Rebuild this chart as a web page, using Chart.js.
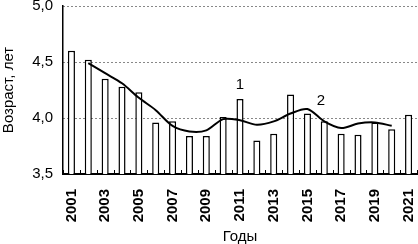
<!DOCTYPE html>
<html>
<head>
<meta charset="utf-8">
<script src="https://cdn.jsdelivr.net/npm/chart.js@4"></script>
<style>
  body { margin: 0; background: #fff; }
  #wrap { width: 418px; height: 244px; position: relative; }
</style>
</head>
<body>
<div id="wrap"><canvas id="chart"></canvas></div>
<script>
// Data
const years = ['2001','2002','2003','2004','2005','2006','2007','2008','2009','2010','2011',
               '2012','2013','2014','2015','2016','2017','2018','2019','2020','2021'];
const ageValues = [4.60, 4.52, 4.35, 4.28, 4.23, 3.96, 3.97, 3.84, 3.84, 4.01, 4.17,
                   3.80, 3.86, 4.21, 4.04, 3.97, 3.86, 3.85, 3.96, 3.90, 4.03];
// smoothed trend (curve 2), no values at the two ends
const trendValues = [null, 4.49, 4.40, 4.31, 4.18, 4.07, 3.93, 3.88, 3.89, 3.99, 3.98,
                     3.94, 3.97, 4.04, 4.08, 3.97, 3.91, 3.95, 3.96, 3.93, null];
const yTicks = [3.5, 4.0, 4.5, 5.0];
// curve labels: text, category position (index), value
const noteTexts = ['1', '2'];
const notePos = [10, 14.8];
const noteVals = [4.30, 4.15];

const FONT = "'Liberation Sans', Arial, sans-serif";

// small inward tick marks between categories + curve labels
const extras = {
  id: 'extras',
  afterDatasetsDraw(chart) {
    const { ctx, scales: { x, y } } = chart;
    const step = x.getPixelForValue(1) - x.getPixelForValue(0);
    ctx.save();
    ctx.strokeStyle = '#000';
    ctx.lineWidth = 1;
    for (let i = 0; i <= years.length; i++) {
      const px = Math.round(x.getPixelForValue(i) - step / 2) + 0.5;
      ctx.beginPath();
      ctx.moveTo(px, y.bottom);
      ctx.lineTo(px, y.bottom - 4);
      ctx.stroke();
    }
    ctx.fillStyle = '#000';
    ctx.font = '15px ' + FONT;
    ctx.textAlign = 'center';
    ctx.textBaseline = 'middle';
    noteTexts.forEach((t, i) => {
      ctx.fillText(t, x.getPixelForValue(notePos[i]), y.getPixelForValue(noteVals[i]));
    });
    ctx.restore();
  }
};

new Chart(document.getElementById('chart'), {
  data: {
    labels: years,
    datasets: [
      {
        type: 'line',
        data: trendValues,
        borderColor: '#000',
        borderWidth: 2,
        pointRadius: 0,
        tension: 0.3,
        fill: false,
        order: 0,
      },
      {
        type: 'bar',
        data: ageValues,
        backgroundColor: '#fff',
        borderColor: '#000',
        borderWidth: 1.5,
        barPercentage: 0.42,
        categoryPercentage: 1,
        order: 1,
      },
    ],
  },
  options: {
    responsive: true,
    maintainAspectRatio: false,
    animation: false,
    layout: { padding: { top: 6, right: 1, left: 0, bottom: 0 } },
    plugins: { legend: { display: false }, tooltip: { enabled: false } },
    scales: {
      x: {
        grid: { display: true, drawOnChartArea: false, drawTicks: false },
        border: { color: '#000', width: 2 },
        ticks: {
          autoSkip: false,
          minRotation: 90,
          maxRotation: 90,
          padding: 15,
          color: '#000',
          font: { family: FONT, size: 15, weight: 'bold' },
          callback: (v, i) => (i % 2 === 0 ? years[i] : ''),
        },
        title: { display: true, text: 'Годы', color: '#000', font: { family: FONT, size: 15 }, padding: { top: 0, bottom: -2 } },
        afterFit: s => { s.height = 70; s.paddingLeft = 0; s.paddingRight = 0; },
      },
      y: {
        min: 3.5,
        max: 5.0,
        afterBuildTicks: s => { s.ticks = yTicks.map(v => ({ value: v })); },
        grid: {
          drawTicks: false,
          color: c => (c.tick && c.tick.value === 3.5 ? 'rgba(0,0,0,0)' : '#111'),
          lineWidth: 1,
        },
        border: { color: '#000', width: 1.5, dash: [1, 3] },
        ticks: {
          padding: 10,
          color: '#000',
          font: { family: FONT, size: 15 },
          callback: v => v.toFixed(1).replace('.', ','),
        },
        title: { display: true, text: 'Возраст, лет', color: '#000', font: { family: FONT, size: 15 }, padding: 0 },
        afterFit: s => { s.width = 63; s.paddingTop = 0; s.paddingBottom = 0; },
      },
    },
  },
  plugins: [extras],
});
</script>
</body>
</html>
